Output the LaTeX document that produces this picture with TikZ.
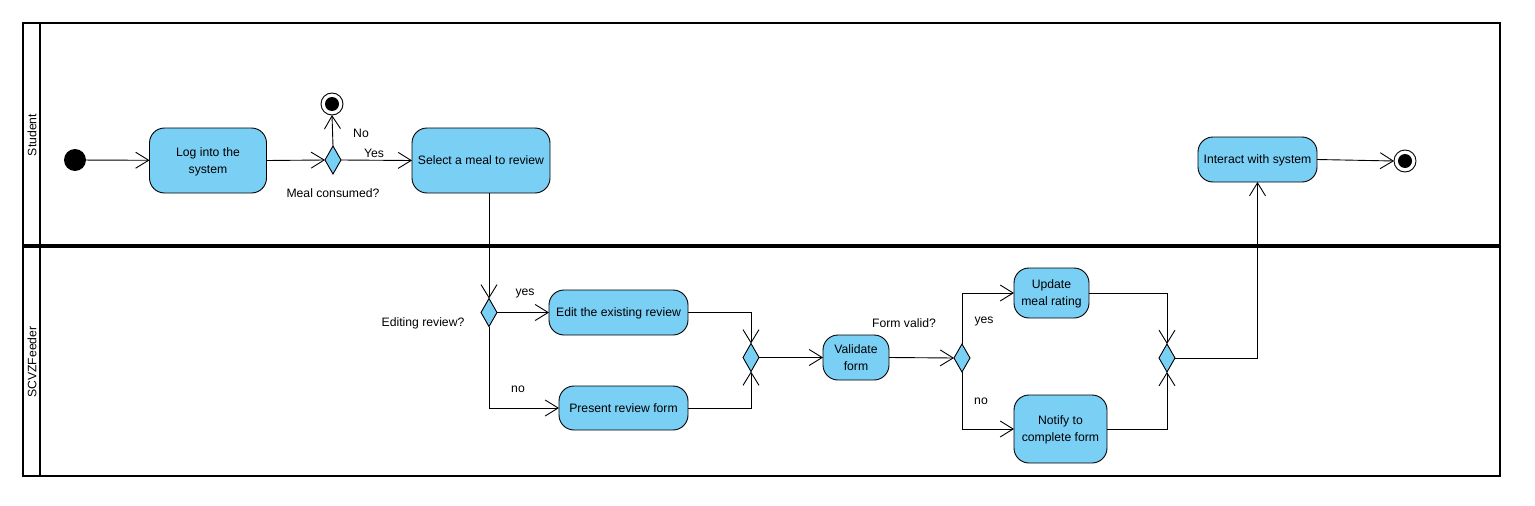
\documentclass[tikz,border=0pt]{standalone}
\usepackage{fontspec}
\setmainfont{Liberation Sans}
\usetikzlibrary{arrows.meta,shapes.geometric}
\definecolor{actfill}{RGB}{122,207,245}
\begin{document}
\begin{tikzpicture}[x=1pt,y=-1pt,
  every node/.style={font=\fontsize{12.2}{17}\selectfont},
  act/.style={rectangle, rounded corners=15pt, draw=black, fill=actfill, line width=0.9pt, inner sep=0pt, outer sep=0pt, align=center, text depth=0pt},
  dec/.style={diamond, draw=black, fill=actfill, line width=0.9pt, minimum width=16pt, minimum height=28pt, inner sep=0pt, outer sep=0pt},
  flow/.style={draw, line width=0.9pt, line join=miter, -{Straight Barb[length=13pt,width=16pt,line width=0.9pt]}},
  lbl/.style={inner sep=0pt},
  initnode/.style={circle, fill=black, minimum size=22pt, inner sep=0pt, outer sep=0pt},
  finnode/.style={circle, draw=black, fill=white, line width=0.9pt, minimum size=22pt, inner sep=0pt, outer sep=0pt,
     path picture={\fill[black] (path picture bounding box.center) circle (7pt);}},
  lane/.style={draw=black, line width=1.6pt}
]
\useasboundingbox (0,0) rectangle (1535,506);
% swimlanes
\draw[lane] (23,23) rectangle (1500,245);
\draw[lane] (23,247) rectangle (1500,476);
\draw[lane] (40,23) -- (40,245);
\draw[lane] (40,247) -- (40,476);
\node[lbl, rotate=90] (lstudent) at (32,135) {Student};
\node[lbl, rotate=90] (lfeeder) at (32,362) {SCVZFeeder};

% nodes
\node[initnode] (init) at (75,160) {};
\node[act, minimum width=117pt, minimum height=65pt] (log) at (208,160.5) {Log into the\\system};
\node[dec] (d1) at (333,160) {};
\node[finnode] (f1) at (332,104) {};
\node[act, minimum width=138pt, minimum height=65pt] (select) at (481,160.5) {Select a meal to review};
\node[dec] (d2) at (489,312.5) {};
\node[act, minimum width=139pt, minimum height=45pt] (edit) at (618.5,312.5) {Edit the existing review};
\node[act, minimum width=129pt, minimum height=44pt] (present) at (623.5,408) {Present review form};
\node[dec] (m1) at (751,357.5) {};
\node[act, minimum width=66pt, minimum height=45pt] (validate) at (856,357.5) {Validate\\form};
\node[dec] (d3) at (962,358) {};
\node[act, minimum width=75pt, minimum height=50pt] (update) at (1051.5,293) {Update\\meal rating};
\node[act, minimum width=93pt, minimum height=68pt] (notify) at (1060.5,429) {Notify to\\complete form};
\node[dec] (m2) at (1167,358) {};
\node[act, minimum width=119pt, minimum height=45pt] (interact) at (1257.5,159.5) {Interact with system};
\node[finnode] (f2) at (1405,161) {};

% labels
\node[lbl] (tno) at (361,133) {No};
\node[lbl] (tyes) at (374,153) {Yes};
\node[lbl] (tmeal) at (333,193) {Meal consumed?};
\node[lbl] (tedit) at (423,323) {Editing review?};
\node[lbl] (tyes2) at (525,293) {yes};
\node[lbl] (tno2) at (518,389) {no};
\node[lbl] (tform) at (904,323) {Form valid?};
\node[lbl] (tyes3) at (984,321) {yes};
\node[lbl] (tno3) at (981,401) {no};

% flows
\draw[flow] (init) -- (log);
\draw[flow] (log.east) -- (d1.west);
\draw[flow] (d1.north) -- (f1.south);
\draw[flow] (d1.east) -- (select.west);
\draw[flow] (d2.north |- select.south) -- (d2.north);
\draw[flow] (d2.east) -- (edit.west);
\draw[flow] (d2.south) |- (present.west);
\draw[flow] (edit.east) -| (m1.north);
\draw[flow] (present.east) -| (m1.south);
\draw[flow] (m1.east) -- (validate.west);
\draw[flow] (validate.east) -- (d3.west);
\draw[flow] (d3.north) |- (update.west);
\draw[flow] (d3.south) |- (notify.west);
\draw[flow] (update.east) -| (m2.north);
\draw[flow] (notify.east) -| (m2.south);
\draw[flow] (m2.east) -| (interact.south);
\draw[flow] (interact.east) -- (f2.west);
\end{tikzpicture}
\end{document}
